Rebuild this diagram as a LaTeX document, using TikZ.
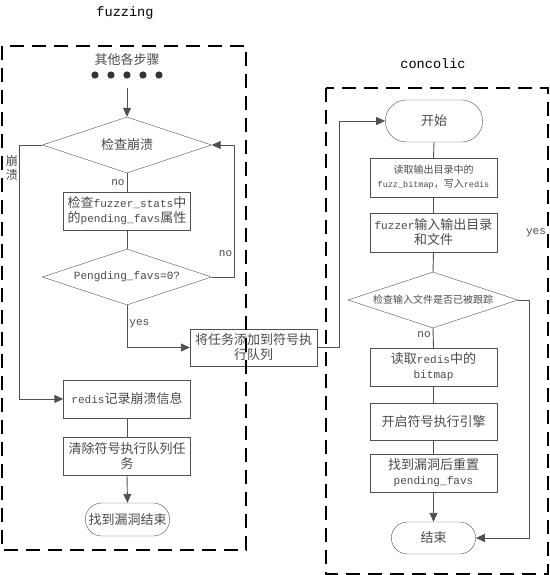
\documentclass[tikz,border=0pt]{standalone}
\usepackage{fontspec}
\setmainfont{Noto Sans CJK SC}
\newfontfamily\lat[Scale=0.85]{Liberation Mono}
\usepackage{tikz}
\usetikzlibrary{arrows.meta,shapes.geometric,shapes.misc}
\definecolor{linec}{HTML}{505050}
\definecolor{txtc}{HTML}{4A4A4A}

\begin{document}
\begin{tikzpicture}[x=1pt, y=-1pt, >={Triangle[length=9pt,width=8pt]},
    txt/.style={text=txtc, font=\fontsize{13}{15}\selectfont},
    small/.style={font=\fontsize{10}{14}\selectfont},
    box/.style={draw=linec, txt, align=center, minimum width=127pt, minimum height=38pt, inner sep=1pt},
    dec/.style={draw=linec, txt, shape=diamond, aspect=3, align=center, minimum width=169pt, minimum height=56pt, inner sep=0pt},
    term/.style={draw=linec, txt, shape=rounded rectangle, minimum width=91pt, minimum height=33pt},
    lbl/.style={text=txtc, font=\fontsize{13}{15}\selectfont\lat, inner sep=2pt},
    ttl/.style={font=\fontsize{16}{18}\selectfont\lat},
    conn/.style={draw=linec, line width=0.9pt},
    frame/.style={draw=black, line width=1.4pt, dash pattern=on 14pt off 8pt}]
    \useasboundingbox (0,0) rectangle (549,575);

    % fuzzing side
    \node[ttl] (fztitle) at (125,13) {fuzzing};
    \node[txt] (steps) at (127,60) {其他各步骤};
    \foreach \i in {-2,...,2}
        \fill[black!80] (127+16*\i,75) circle[radius=3.6pt];
    \coordinate (dotsend) at (127,88);
    \node[dec] (chk) at (127,145) {检查崩溃};
    \node[box] (stat) at (127,211) {检查{\lat fuzzer\_stats}中\\的{\lat pending\_favs}属性};
    \node[dec] (pend) at (127,277) {{\lat Pengding\_favs=0?}};
    \node[box, minimum height=37pt] (queue) at (253.5,347.5) {将任务添加到符号执\\行队列};
    \node[box] (log) at (127,399) {{\lat redis}记录崩溃信息};
    \node[box] (clr) at (127,456) {清除符号执行队列任\\务};
    \node[term] (fin) at (127.5,519.5) {找到漏洞结束};

    % concolic side
    \node[ttl] (cctitle) at (433,64) {concolic};
    \node[term, minimum width=104pt, minimum height=42pt] (start) at (434,121) {开始};
    \node[box, small, minimum height=39pt] (rd) at (433.5,177.5) {读取输出目录中的\\{\lat fuzz\_bitmap}，写入{\lat redis}};
    \node[box, minimum height=39pt] (io) at (433.5,232.5) {{\lat fuzzer}输入输出目录\\和文件};
    \node[dec, small, minimum width=170pt] (trk) at (433,300) {检查输入文件是否已被跟踪};
    \node[box] (bm) at (433.5,367) {读取{\lat redis}中的\\{\lat bitmap}};
    \node[box, minimum height=37pt] (eng) at (433.5,421.5) {开启符号执行引擎};
    \node[box] (rst) at (433.5,473) {找到漏洞后重置\\{\lat pending\_favs}};
    \node[term, minimum height=32pt] (end) at (433.5,538) {结束};
    \node[lbl] (yeslbl) at (536,233) {yes};

    % connectors, fuzzing
    \draw[conn, ->] (dotsend) -- (chk.north);
    \draw[conn] (chk.south) -- node[lbl, left, pos=0.5] {no} (stat.north);
    \draw[conn] (stat.south) -- (pend.north);
    \draw[conn, ->] (pend.east) -- ++(23,0) |- node[lbl, left, pos=0.09] {no} (chk.east);
    \draw[conn, ->] (pend.south) |- node[lbl, right, pos=0.22] {yes} (queue.west);
    \draw[conn, ->] (chk.west) -- ++(-23,0) |- node[txt, left, align=center, pos=0.045, inner sep=1pt, font=\fontsize{12}{14}\selectfont] {崩\\溃} (log.west);
    \draw[conn] (log.south) -- (clr.north);
    \draw[conn, ->] (clr.south) -- (fin.north);

    % connectors, concolic
    \draw[conn, ->] (queue.east) -- ++(22,0) |- (start.west);
    \draw[conn] (start.south) -- (rd.north);
    \draw[conn] (rd.south) -- (io.north);
    \draw[conn] (io.south) -- (trk.north);
    \draw[conn] (trk.south) -- node[lbl, left, pos=0.3] {no} (bm.north);
    \draw[conn] (bm.south) -- (eng.north);
    \draw[conn] (eng.south) -- (rst.north);
    \draw[conn, ->] (rst.south) -- (end.north);
    \draw[conn, ->] (trk.east) -- ++(11,0) |- (end.east);

    % dashed frames
    \draw[frame] (2,46) rectangle (246,550);
    \draw[frame] (326,88) rectangle (548,574);
\end{tikzpicture}
\end{document}
